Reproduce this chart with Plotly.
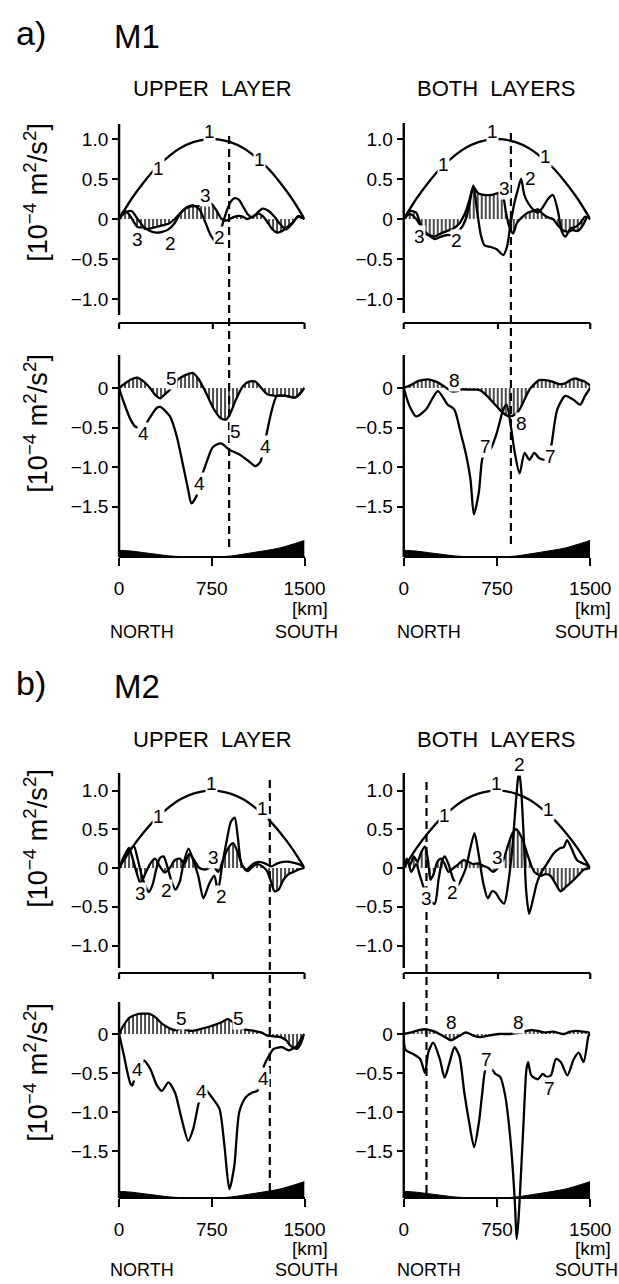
import plotly.graph_objects as go

W, H = 619, 1284      # target picture size (all positions below are given in these pixels)
W_CSS = 640           # page width the photo is taken from

# ---------------- data (km along section, 10^-4 m^2/s^2) ----------------
parab_km = [0, 100, 200, 300, 400, 500, 600, 700, 750, 800, 900, 1000, 1100, 1200, 1300, 1400, 1500]
parab_val = [0.0, 0.25, 0.46, 0.64, 0.78, 0.89, 0.96, 0.995, 1.0, 0.995, 0.96, 0.89, 0.78, 0.64, 0.46, 0.25, 0.0]

# M1 upper layer
a_ul_c2_km = [0, 50, 100, 150, 200, 250, 300, 350, 400, 450, 500, 550, 600, 650, 700, 740, 775, 810, 845, 875, 905, 935, 970, 1005, 1040, 1080, 1120, 1160, 1200, 1250, 1300, 1350, 1400, 1450, 1500]
a_ul_c2 = [0, 0.08, 0.10, 0.0, -0.10, -0.15, -0.17, -0.16, -0.13, -0.05, 0.08, 0.15, 0.17, 0.12, -0.05, -0.20, -0.27, -0.20, -0.02, 0.12, 0.22, 0.26, 0.24, 0.15, 0.06, 0.02, 0.08, 0.13, 0.11, 0.04, -0.06, -0.13, -0.06, 0.04, 0.0]
a_ul_c3_km = [0, 40, 80, 120, 150, 200, 250, 300, 350, 400, 450, 500, 550, 600, 650, 700, 740, 790, 830, 870, 920, 960, 1000, 1040, 1080, 1120, 1160, 1200, 1240, 1280, 1320, 1360, 1400, 1450, 1500]
a_ul_c3 = [0, 0.10, 0.06, -0.04, -0.10, -0.12, -0.12, -0.10, -0.08, -0.06, 0.0, 0.08, 0.14, 0.16, 0.16, 0.19, 0.20, 0.10, 0.0, -0.02, 0.02, 0.04, 0.03, 0.0, 0.03, 0.07, 0.04, -0.04, -0.13, -0.17, -0.15, -0.10, -0.05, 0.03, 0.0]

# M1 both layers
a_ur_c2_km = [0, 50, 100, 150, 200, 250, 300, 350, 400, 450, 500, 530, 560, 590, 620, 650, 700, 750, 800, 830, 860, 890, 915, 944, 970, 1000, 1040, 1080, 1120, 1160, 1200, 1240, 1270, 1300, 1340, 1380, 1420, 1460, 1500]
a_ur_c2 = [0, 0.06, 0.0, -0.12, -0.20, -0.25, -0.22, -0.20, -0.20, -0.14, 0.0, 0.20, 0.42, 0.10, -0.20, -0.33, -0.35, -0.38, -0.45, -0.35, -0.05, 0.20, 0.35, 0.50, 0.30, 0.20, 0.12, 0.08, 0.15, 0.25, 0.30, 0.10, -0.15, -0.22, -0.12, -0.10, -0.05, 0.03, 0.0]
a_ur_c3_km = [0, 50, 100, 130, 160, 200, 250, 300, 350, 400, 450, 500, 530, 560, 600, 650, 700, 750, 790, 820, 850, 880, 910, 950, 1000, 1040, 1080, 1120, 1160, 1200, 1240, 1280, 1320, 1360, 1400, 1440, 1480, 1500]
a_ur_c3 = [0, 0.10, 0.08, -0.05, -0.18, -0.20, -0.22, -0.18, -0.15, -0.12, -0.05, 0.10, 0.25, 0.40, 0.32, 0.30, 0.30, 0.32, 0.33, 0.10, -0.10, -0.18, -0.05, 0.02, 0.08, 0.10, 0.12, 0.06, 0.02, 0.0, -0.08, -0.14, -0.16, -0.14, -0.15, -0.08, 0.03, 0.0]

# M1 lower panels
a_ll_c4_km = [0, 40, 93, 133, 200, 239, 306, 333, 412, 466, 519, 559, 585, 625, 652, 705, 758, 824, 891, 971, 1051, 1104, 1144, 1170, 1197, 1237, 1277, 1350, 1423, 1500]
a_ll_c4 = [0, -0.19, -0.40, -0.49, -0.50, -0.40, -0.25, -0.24, -0.36, -0.61, -0.99, -1.29, -1.46, -1.37, -1.20, -0.95, -0.75, -0.70, -0.78, -0.84, -0.93, -0.99, -0.93, -0.75, -0.55, -0.27, -0.10, -0.10, -0.12, 0.0]
a_ll_c5_km = [0, 50, 100, 146, 200, 250, 300, 333, 370, 425, 470, 520, 598, 640, 700, 760, 820, 865, 900, 944, 1000, 1050, 1104, 1150, 1200, 1264, 1300, 1350, 1423, 1460, 1500]
a_ll_c5 = [0, 0.06, 0.11, 0.13, 0.08, 0.0, -0.10, -0.13, -0.08, 0.0, 0.10, 0.15, 0.19, 0.12, -0.05, -0.25, -0.38, -0.40, -0.32, -0.15, 0.02, 0.08, 0.08, 0.0, -0.08, -0.10, -0.10, -0.10, -0.12, -0.08, 0.0]
a_lr_c7_km = [0, 47, 100, 180, 274, 353, 406, 458, 498, 537, 564, 603, 630, 656, 695, 748, 801, 827, 866, 893, 932, 972, 1011, 1050, 1090, 1129, 1160, 1190, 1235, 1300, 1366, 1419, 1458, 1500]
a_lr_c7 = [0, -0.23, -0.36, -0.27, -0.04, -0.21, -0.27, -0.57, -0.82, -1.16, -1.60, -1.33, -0.91, -0.80, -0.78, -0.57, -0.27, -0.21, -0.53, -0.82, -1.08, -0.82, -0.91, -0.82, -0.89, -0.91, -0.92, -0.70, -0.27, -0.10, -0.15, -0.21, -0.10, 0.0]
a_lr_c8_km = [0, 60, 120, 195, 260, 326, 379, 430, 458, 520, 580, 616, 670, 722, 770, 801, 853, 900, 932, 970, 1011, 1050, 1090, 1140, 1195, 1250, 1300, 1340, 1380, 1420, 1458, 1500]
a_lr_c8 = [0, 0.04, 0.09, 0.11, 0.08, 0.02, -0.04, -0.04, -0.02, -0.02, -0.02, -0.03, -0.10, -0.19, -0.27, -0.32, -0.36, -0.33, -0.27, -0.15, -0.02, 0.05, 0.10, 0.10, 0.08, 0.05, 0.06, 0.10, 0.12, 0.10, 0.08, 0.03]

# M2 upper layer
b_ul_c2_km = [0, 40, 80, 120, 150, 180, 210, 240, 270, 300, 330, 360, 390, 420, 455, 490, 520, 561, 600, 640, 682, 730, 770, 800, 830, 870, 905, 935, 960, 990, 1030, 1080, 1130, 1180, 1230, 1280, 1330, 1380, 1430, 1470, 1500]
b_ul_c2 = [0, 0.12, 0.22, 0.28, 0.12, -0.08, -0.22, -0.31, -0.22, -0.02, 0.13, 0.15, 0.02, -0.15, -0.28, -0.18, 0.05, 0.25, 0.10, -0.10, -0.39, -0.20, -0.10, -0.30, 0.0, 0.35, 0.60, 0.65, 0.40, 0.05, -0.02, 0.05, 0.08, 0.06, 0.02, 0.06, 0.08, 0.08, 0.06, 0.04, 0.0]
b_ul_c3_km = [0, 40, 80, 110, 140, 174, 210, 250, 290, 330, 370, 410, 450, 490, 530, 565, 600, 650, 700, 762, 800, 840, 880, 922, 960, 1000, 1040, 1080, 1120, 1160, 1200, 1230, 1257, 1290, 1330, 1370, 1410, 1450, 1500]
b_ul_c3 = [0, 0.15, 0.26, 0.12, -0.05, -0.20, -0.08, 0.05, 0.12, 0.02, -0.06, 0.0, 0.10, 0.12, 0.06, 0.18, 0.12, 0.0, -0.02, 0.02, -0.05, 0.10, 0.25, 0.32, 0.20, 0.02, -0.04, 0.02, 0.05, 0.02, -0.05, -0.18, -0.30, -0.28, -0.15, -0.08, -0.05, -0.02, 0.0]

# M2 both layers
b_ur_c2_km = [0, 30, 60, 100, 130, 160, 190, 220, 250, 280, 310, 330, 360, 400, 436, 470, 500, 535, 569, 600, 640, 676, 710, 740, 770, 808, 840, 870, 895, 915, 928, 945, 965, 985, 1008, 1040, 1070, 1101, 1150, 1207, 1250, 1287, 1314, 1350, 1394, 1440, 1470, 1500]
b_ur_c2 = [0, 0.10, -0.05, 0.05, -0.10, -0.25, -0.38, -0.44, -0.46, -0.15, 0.10, 0.15, 0.05, -0.15, -0.22, -0.12, 0.0, 0.25, 0.45, 0.20, -0.20, -0.39, -0.30, -0.32, -0.40, -0.46, -0.20, 0.20, 0.70, 1.10, 1.25, 1.00, 0.40, -0.30, -0.59, -0.40, -0.20, -0.07, 0.05, 0.19, 0.25, 0.27, 0.36, 0.25, 0.10, 0.06, 0.04, 0.0]
b_ur_c3_km = [0, 25, 50, 80, 110, 140, 170, 195, 215, 240, 270, 300, 330, 360, 400, 440, 480, 520, 560, 600, 640, 680, 720, 756, 800, 840, 875, 904, 930, 960, 1000, 1050, 1100, 1140, 1180, 1220, 1261, 1300, 1350, 1400, 1450, 1500]
b_ur_c3 = [0, 0.12, 0.04, 0.15, 0.08, 0.20, 0.28, 0.10, -0.15, -0.08, 0.08, 0.12, 0.05, -0.05, 0.0, 0.05, 0.10, 0.08, 0.05, 0.06, 0.03, 0.0, -0.05, 0.0, 0.10, 0.30, 0.45, 0.50, 0.45, 0.35, 0.15, -0.05, -0.10, -0.08, -0.10, -0.20, -0.30, -0.25, -0.18, -0.10, -0.02, 0.0]

# M2 lower panels
b_ll_c4_km = [0, 40, 67, 93, 107, 133, 170, 199, 253, 306, 346, 399, 452, 506, 559, 599, 639, 679, 759, 812, 852, 892, 932, 972, 1025, 1078, 1118, 1150, 1172, 1212, 1252, 1319, 1372, 1439, 1479, 1500]
b_ll_c4 = [0, -0.28, -0.49, -0.64, -0.66, -0.53, -0.45, -0.34, -0.45, -0.66, -0.73, -0.62, -0.75, -1.09, -1.37, -1.22, -0.92, -0.68, -0.83, -0.96, -1.43, -1.99, -1.69, -1.00, -0.81, -0.75, -0.73, -0.60, -0.41, -0.28, -0.19, -0.17, -0.21, -0.15, -0.04, 0.0]
b_ll_c5_km = [0, 40, 85, 140, 191, 240, 290, 349, 428, 470, 508, 550, 587, 650, 720, 780, 827, 880, 946, 1013, 1093, 1150, 1200, 1250, 1306, 1350, 1386, 1440, 1470, 1493, 1500]
b_ll_c5 = [0, 0.12, 0.21, 0.25, 0.26, 0.26, 0.22, 0.13, 0.06, 0.05, 0.09, 0.05, 0.04, 0.06, 0.09, 0.12, 0.15, 0.19, 0.12, 0.06, 0.04, 0.02, -0.02, -0.03, -0.04, -0.08, -0.15, -0.19, -0.12, -0.02, 0.0]
b_lr_c7_km = [0, 13, 79, 132, 171, 197, 237, 290, 329, 368, 408, 447, 487, 526, 566, 605, 632, 660, 697, 737, 776, 816, 855, 880, 895, 908, 922, 934, 961, 987, 1000, 1026, 1079, 1118, 1150, 1184, 1224, 1263, 1316, 1368, 1408, 1447, 1487, 1500]
b_lr_c7 = [0, -0.20, -0.26, -0.32, -0.50, -0.24, -0.11, -0.32, -0.56, -0.37, -0.17, -0.28, -0.75, -1.13, -1.45, -1.13, -0.75, -0.45, -0.43, -0.51, -0.55, -0.79, -1.30, -1.80, -2.20, -2.63, -2.40, -2.07, -1.22, -0.45, -0.36, -0.53, -0.58, -0.51, -0.55, -0.53, -0.32, -0.36, -0.53, -0.32, -0.24, -0.36, -0.02, 0.0]
b_lr_c8_km = [0, 60, 120, 184, 250, 320, 381, 440, 500, 560, 618, 680, 763, 850, 908, 960, 1026, 1080, 1131, 1200, 1289, 1340, 1395, 1440, 1487, 1500]
b_lr_c8 = [0, 0.02, 0.05, 0.06, 0.03, -0.03, -0.08, -0.03, 0.02, -0.02, -0.04, -0.02, 0.0, 0.0, 0.01, 0.03, 0.05, 0.04, 0.02, 0.03, 0.0, 0.03, 0.04, 0.03, 0.02, 0.0]

# bottom topography (height above the panel floor, in axis units)
topo_km = [0, 100, 200, 300, 400, 500, 600, 700, 800, 900, 1000, 1100, 1200, 1300, 1400, 1450, 1500]
topo_h = [0.085, 0.075, 0.055, 0.035, 0.015, 0.005, 0.0, 0.0, 0.003, 0.012, 0.035, 0.06, 0.085, 0.115, 0.16, 0.185, 0.21]

# position of the dashed section marker (km)
dash_km = {"a_left": 890, "a_right": 862, "b_left": 1219, "b_right": 183}

x_ticks = [0, 750, 1500]
x_ticktext = ["0", "750", "1500"]
y_ticks_up = [1.0, 0.5, 0, -0.5, -1.0]
y_ticktext_up = ["1.0", "0.5", "0", "\u22120.5", "\u22121.0"]
y_ticks_lo = [0, -0.5, -1.0, -1.5]
y_ticktext_lo = ["0", "\u22120.5", "\u22121.0", "\u22121.5"]

# ---------------- layout geometry (pixels) ----------------
FONT = "Liberation Sans, Arial, sans-serif"


def px(xp):
    return xp / W


def py(yp):
    return 1 - yp / H


panels = {
    1: dict(x0=115, x1=302, dom=(116, 320), zero=219, ppu=80, spine=(124, 315), kind="up"),
    2: dict(x0=402, x1=590, dom=(116, 320), zero=219, ppu=80, spine=(123, 313), kind="up"),
    3: dict(x0=115, x1=302, dom=(330, 566), zero=388, ppu=79, spine=(355, 557), kind="lo"),
    4: dict(x0=402, x1=590, dom=(330, 566), zero=388, ppu=79, spine=(355, 557), kind="lo"),
    5: dict(x0=115, x1=302, dom=(760, 972), zero=868, ppu=77.5, spine=(773, 968), kind="up"),
    6: dict(x0=402, x1=590, dom=(760, 972), zero=868, ppu=77.5, spine=(773, 968), kind="up"),
    7: dict(x0=115, x1=302, dom=(980, 1246), zero=1034, ppu=78, spine=(1002, 1198), kind="lo"),
    8: dict(x0=402, x1=590, dom=(980, 1246), zero=1034, ppu=78, spine=(1002, 1198), kind="lo"),
}

fig = go.Figure()
layout = dict(
    width=W_CSS, height=H, autosize=False, margin=dict(l=0, r=0, t=0, b=0, pad=0),
    paper_bgcolor="white", plot_bgcolor="rgba(0,0,0,0)",
    showlegend=False, font=dict(family=FONT, color="black", size=19),
)
shapes = []
annotations = []

for i, p in panels.items():
    ymin = (p["zero"] - p["dom"][1]) / p["ppu"]
    ymax = (p["zero"] - p["dom"][0]) / p["ppu"]
    xa = dict(domain=[px(p["x0"]), px(p["x1"])], range=[0, 1500], showgrid=False,
              zeroline=False, fixedrange=True)
    if p["kind"] == "up":
        xa.update(anchor=f"y{i}", showline=False, showticklabels=False, ticks="")
        tv, tt = y_ticks_up, y_ticktext_up
    else:
        xa.update(anchor="free", position=py(p["spine"][1]), showline=True, linecolor="black",
                  linewidth=2.2, ticks="outside", ticklen=8, tickwidth=2, tickcolor="black",
                  tickvals=x_ticks, ticktext=x_ticktext, tickfont=dict(size=19, family=FONT),
                  ticklabelstandoff=6)
        tv, tt = y_ticks_lo, y_ticktext_lo
    ya = dict(domain=[py(p["dom"][1]), py(p["dom"][0])], range=[ymin, ymax], anchor=f"x{i}",
              showgrid=False, zeroline=False, showline=False, ticks="outside", ticklen=6,
              tickwidth=2, tickcolor="black", tickvals=tv, ticktext=tt,
              tickfont=dict(size=19, family=FONT), fixedrange=True)
    layout[f"xaxis{i}" if i > 1 else "xaxis"] = xa
    layout[f"yaxis{i}" if i > 1 else "yaxis"] = ya
    # y spine
    shapes.append(dict(type="line", xref="paper", yref="paper", x0=px(p["x0"]), x1=px(p["x0"]),
                       y0=py(p["spine"][0]), y1=py(p["spine"][1]),
                       line=dict(color="black", width=2.4)))

# bracket lines on top of the lower panels (with small ticks)
for (x0, x1, yb) in [(115, 302, 323), (402, 590, 323), (115, 302, 973), (402, 590, 973)]:
    shapes.append(dict(type="line", xref="paper", yref="paper", x0=px(x0), x1=px(x1),
                       y0=py(yb), y1=py(yb), line=dict(color="black", width=2.2)))
    for xt in (x0, (x0 + x1) / 2 + 1, x1):
        shapes.append(dict(type="line", xref="paper", yref="paper", x0=px(xt), x1=px(xt),
                           y0=py(yb), y1=py(yb + 6), line=dict(color="black", width=2.2)))


def axref(i):
    return ("x" if i == 1 else f"x{i}"), ("y" if i == 1 else f"y{i}")


def curve(i, km, val, hatch=False):
    xr, yr = axref(i)
    kw = dict(x=km, y=val, mode="lines", xaxis=xr, yaxis=yr, hoverinfo="skip",
              line=dict(color="black", width=2.3, shape="spline", smoothing=0.7))
    if hatch:
        kw.update(fill="tozeroy", fillcolor="rgba(0,0,0,0)",
                  fillpattern=dict(shape="|", size=4, solidity=0.35, fgcolor="black", fgopacity=1,
                                   bgcolor="rgba(0,0,0,0)"))
    fig.add_trace(go.Scatter(**kw))


def label(i, x, y, t, bg=True):
    xr, yr = axref(i)
    annotations.append(dict(x=x, y=y, xref=xr, yref=yr, text=t, showarrow=False,
                            font=dict(size=19, family=FONT, color="black"),
                            bgcolor="white" if bg else None, borderpad=0))


def topo(i):
    p = panels[i]
    floor = (p["zero"] - p["spine"][1]) / p["ppu"]
    xr, yr = axref(i)
    fig.add_trace(go.Scatter(x=topo_km, y=[floor] * len(topo_km), mode="lines", xaxis=xr, yaxis=yr,
                             line=dict(width=0, color="black"), hoverinfo="skip"))
    fig.add_trace(go.Scatter(x=topo_km, y=[floor + h for h in topo_h], mode="lines", xaxis=xr,
                             yaxis=yr, fill="tonexty", fillcolor="black", hoverinfo="skip",
                             line=dict(width=1, color="black", shape="spline")))


# upper panels
for i, c2k, c2, c3k, c3 in [(1, a_ul_c2_km, a_ul_c2, a_ul_c3_km, a_ul_c3),
                            (2, a_ur_c2_km, a_ur_c2, a_ur_c3_km, a_ur_c3),
                            (5, b_ul_c2_km, b_ul_c2, b_ul_c3_km, b_ul_c3),
                            (6, b_ur_c2_km, b_ur_c2, b_ur_c3_km, b_ur_c3)]:
    curve(i, c3k, c3, hatch=True)
    curve(i, c2k, c2)
    curve(i, parab_km, parab_val)

# lower panels
for i, c4k, c4, c5k, c5 in [(3, a_ll_c4_km, a_ll_c4, a_ll_c5_km, a_ll_c5),
                            (4, a_lr_c7_km, a_lr_c7, a_lr_c8_km, a_lr_c8),
                            (7, b_ll_c4_km, b_ll_c4, b_ll_c5_km, b_ll_c5),
                            (8, b_lr_c7_km, b_lr_c7, b_lr_c8_km, b_lr_c8)]:
    topo(i)
    curve(i, c5k, c5, hatch=True)
    curve(i, c4k, c4)

# curve labels
for i, lab in [
    (1, [(321, 0.63, "1"), (735, 1.09, "1"), (1136, 0.75, "1"), (147, -0.26, "3"), (415, -0.30, "2"),
         (695, 0.30, "3"), (810, -0.23, "2")]),
    (2, [(317, 0.68, "1"), (716, 1.09, "1"), (1141, 0.78, "1"), (130, -0.22, "3"), (423, -0.27, "2"),
         (809, 0.38, "3"), (1021, 0.51, "2")]),
    (3, [(425, 0.12, "5"), (200, -0.57, "4"), (652, -1.21, "4"), (944, -0.55, "5"), (1183, -0.74, "4")]),
    (4, [(405, 0.10, "8"), (656, -0.74, "7"), (945, -0.45, "8"), (1182, -0.87, "7")]),
    (5, [(321, 0.66, "1"), (748, 1.09, "1"), (1163, 0.77, "1"), (174, -0.33, "3"), (387, -0.29, "2"),
         (762, 0.13, "3"), (829, -0.37, "2")]),
    (6, [(330, 0.68, "1"), (742, 1.09, "1"), (1168, 0.75, "1"), (928, 1.33, "2"), (184, -0.39, "3"),
         (396, -0.31, "2"), (756, 0.13, "3")]),
    (7, [(505, 0.20, "5"), (966, 0.20, "5"), (146, -0.46, "4"), (665, -0.74, "4"), (1171, -0.57, "4")]),
    (8, [(385, 0.15, "8"), (919, 0.15, "8"), (666, -0.33, "7"), (1175, -0.70, "7")]),
]:
    for (x, y, t) in lab:
        label(i, x, y, t)

# dashed section markers
for key, i, ytop, ybot in [("a_left", 1, 136, 548), ("a_right", 2, 133, 548),
                           ("b_left", 5, 780, 1193), ("b_right", 6, 782, 1194)]:
    xr, _ = axref(i)
    shapes.append(dict(type="line", xref=xr, yref="paper", x0=dash_km[key], x1=dash_km[key],
                       y0=py(ytop), y1=py(ybot), line=dict(color="black", width=2.2, dash="8px,5px")))


def ptext(x, y, t, size, xanchor="center", angle=0):
    annotations.append(dict(x=px(x), y=py(y), xref="paper", yref="paper", text=t, showarrow=False,
                            xanchor=xanchor, yanchor="middle", textangle=angle,
                            font=dict(size=size, family=FONT, color="black")))


for (y_lab, y_sub, tag, model) in [(33, 88, "a)", "M1"), (683, 740, "b)", "M2")]:
    ptext(26, y_lab, tag, 34)
    ptext(133, y_lab + 3, model, 33)
    ptext(209, y_sub, "UPPER\u00a0\u00a0LAYER", 22)
    ptext(495, y_sub, "BOTH\u00a0\u00a0LAYERS", 22)

ytitle = "[10<sup>\u22124</sup> m<sup>2</sup>/s<sup>2</sup>]"
for yc in (192, 423, 838, 1072):
    ptext(31, yc, ytitle, 27, angle=-90)

for (xk, xs, xn, yk, yn) in [(307, 304, 138, 608, 632), (593, 586, 427, 608, 632),
                             (307, 304, 138, 1248, 1270), (593, 586, 427, 1248, 1270)]:
    ptext(xk, yk, "[km]", 19)
    ptext(xn, yn, "NORTH", 18)
    ptext(xs, yn, "SOUTH", 18)

layout["shapes"] = shapes
layout["annotations"] = annotations
fig.update_layout(**layout)
fig.write_html("out.html")
